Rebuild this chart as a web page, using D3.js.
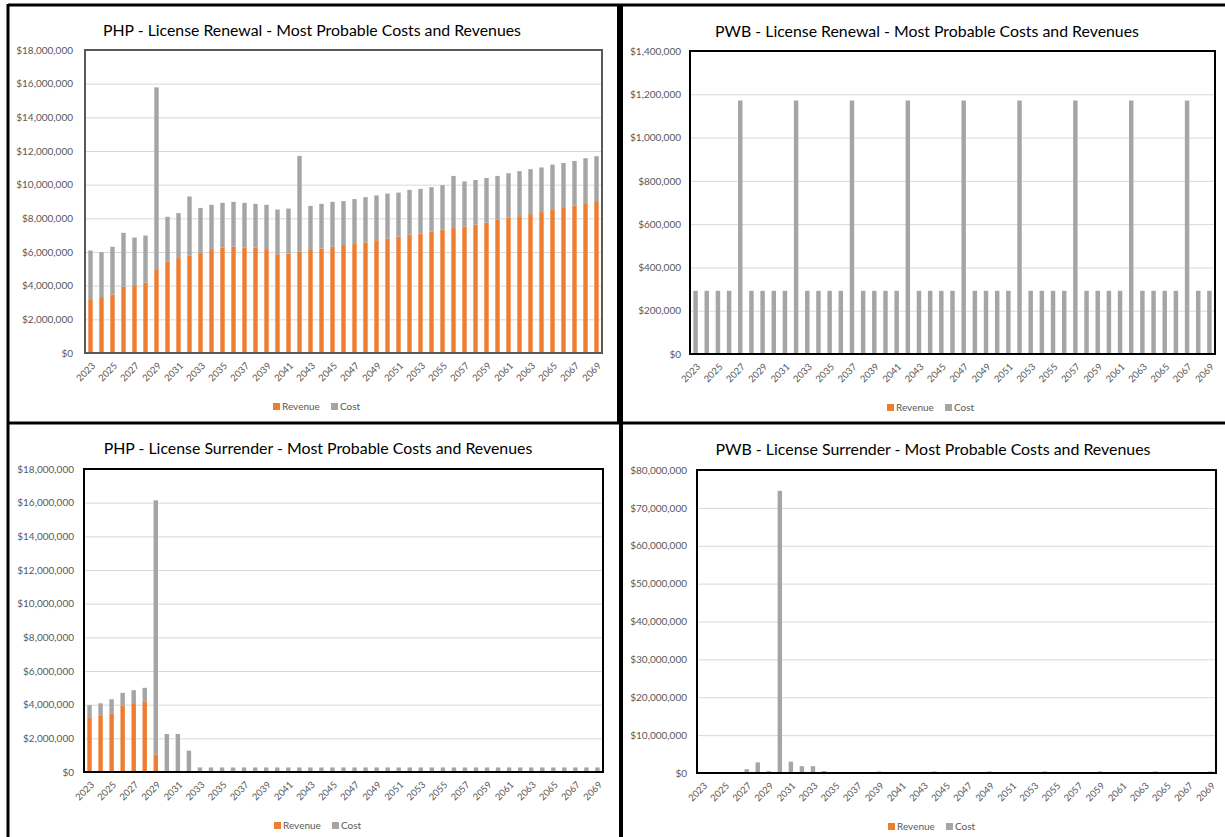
<!DOCTYPE html>
<html>
<head>
<meta charset="utf-8">
<script src="https://cdn.jsdelivr.net/npm/d3@7"></script>
<style>
  html, body { margin: 0; padding: 0; background: #fff; }
  svg { display: block; font-family: Lato, "Open Sans", sans-serif; }
</style>
</head>
<body>
<svg id="chart" width="1225" height="837"></svg>
<script>
// Years on the category axis
const years = d3.range(2023, 2070);
const tickYears = years.filter((y, i) => i % 2 === 0);
const seriesNames = ["Revenue", "Cost"];

// PHP - License Renewal (USD)
const phpRenewalRevenue = [
  3200000, 3320000, 3480000, 3940000, 4030000, 4190000, 4980000, 5440000, 5640000, 5800000,
  5970000, 6170000, 6270000, 6310000, 6270000, 6270000, 6170000, 5870000, 5910000, 6030000,
  6170000, 6210000, 6310000, 6410000, 6470000, 6570000, 6700000, 6800000, 6920000, 7040000,
  7100000, 7220000, 7320000, 7420000, 7520000, 7630000, 7750000, 7930000, 8030000, 8130000,
  8250000, 8370000, 8540000, 8660000, 8760000, 8900000, 9020000
];
const phpRenewalCost = [
  2890000, 2670000, 2830000, 3200000, 2830000, 2790000, 10800000, 2650000, 2670000, 3500000,
  2650000, 2630000, 2650000, 2670000, 2650000, 2590000, 2630000, 2650000, 2670000, 5680000,
  2570000, 2650000, 2670000, 2610000, 2670000, 2690000, 2660000, 2670000, 2610000, 2650000,
  2650000, 2630000, 2650000, 3100000, 2670000, 2650000, 2650000, 2590000, 2650000, 2670000,
  2670000, 2650000, 2650000, 2630000, 2650000, 2670000, 2670000
];

// PWB - License Renewal (USD)
const pwbRenewalRevenue = [
  0, 0, 0, 0, 0, 0, 0, 0, 0, 0, 0, 0, 0, 0, 0, 0, 0, 0, 0, 0, 0, 0, 0, 0,
  0, 0, 0, 0, 0, 0, 0, 0, 0, 0, 0, 0, 0, 0, 0, 0, 0, 0, 0, 0, 0, 0, 0
];
const pwbRenewalCost = [
  292000, 292000, 292000, 292000, 1171000, 292000, 292000, 292000, 292000, 1171000,
  292000, 292000, 292000, 292000, 1171000, 292000, 292000, 292000, 292000, 1171000,
  292000, 292000, 292000, 292000, 1171000, 292000, 292000, 292000, 292000, 1171000,
  292000, 292000, 292000, 292000, 1171000, 292000, 292000, 292000, 292000, 1171000,
  292000, 292000, 292000, 292000, 1171000, 292000, 292000
];

// PHP - License Surrender (USD)
const phpSurrenderRevenue = [
  3210000, 3330000, 3470000, 3930000, 4040000, 4200000, 1050000, 0, 0, 0,
  0, 0, 0, 0, 0, 0, 0, 0, 0, 0, 0, 0, 0, 0, 0, 0, 0, 0, 0, 0,
  0, 0, 0, 0, 0, 0, 0, 0, 0, 0, 0, 0, 0, 0, 0, 0, 0
];
const phpSurrenderCost = [
  760000, 750000, 850000, 770000, 820000, 800000, 15090000, 2260000, 2260000, 1270000,
  270000, 270000, 270000, 270000, 270000, 270000, 270000, 270000, 270000, 270000,
  270000, 270000, 270000, 270000, 270000, 270000, 270000, 270000, 270000, 270000,
  270000, 270000, 270000, 270000, 270000, 270000, 270000, 270000, 270000, 270000,
  270000, 270000, 270000, 270000, 270000, 270000, 270000
];

// PWB - License Surrender (USD)
const pwbSurrenderRevenue = [
  0, 0, 0, 0, 0, 0, 0, 0, 0, 0, 0, 0, 0, 0, 0, 0, 0, 0, 0, 0, 0, 0, 0, 0,
  0, 0, 0, 0, 0, 0, 0, 0, 0, 0, 0, 0, 0, 0, 0, 0, 0, 0, 0, 0, 0, 0, 0
];
const pwbSurrenderCost = [
  100000, 100000, 100000, 100000, 1000000, 2800000, 500000, 74500000, 3000000, 1800000,
  1800000, 500000, 150000, 150000, 150000, 150000, 400000, 150000, 150000, 150000,
  150000, 400000, 150000, 150000, 150000, 150000, 400000, 150000, 150000, 150000,
  150000, 400000, 150000, 150000, 150000, 150000, 400000, 150000, 150000, 150000,
  150000, 400000, 150000, 150000, 150000, 150000, 400000
];

const COLORS = { Revenue: "#ED7D31", Cost: "#A5A5A5" };
const svg = d3.select("#chart");
const fmt = d3.format("$,.0f");

// Frame lines separating the four charts
const frame = svg.append("g").attr("stroke", "#000").attr("fill", "none");
frame.append("line").attr("x1", 8).attr("x2", 1225).attr("y1", 5).attr("y2", 5).attr("stroke-width", 3);
frame.append("line").attr("x1", 8).attr("x2", 8).attr("y1", 4).attr("y2", 837).attr("stroke-width", 3);
frame.append("line").attr("x1", 618).attr("x2", 618).attr("y1", 4).attr("y2", 423).attr("stroke-width", 2);
frame.append("line").attr("x1", 621).attr("x2", 621).attr("y1", 4).attr("y2", 837).attr("stroke-width", 4);
frame.append("line").attr("x1", 8).attr("x2", 1225).attr("y1", 423).attr("y2", 423).attr("stroke-width", 3);

function fitText(sel, width) {
  const base = parseFloat(sel.attr("font-size"));
  const w = sel.node().getComputedTextLength();
  sel.attr("font-size", (base * width / w).toFixed(2));
}

function drawPanel(cfg) {
  const [x0, y0, x1, y1] = cfg.plot;
  const g = svg.append("g");

  const rows = years.map((yr, i) => ({ year: yr, Revenue: cfg.revenue[i], Cost: cfg.cost[i] }));
  const stack = d3.stack().keys(seriesNames)(rows);

  const x = d3.scaleBand().domain(years).range([x0, x1]).paddingInner(0.6).paddingOuter(0.3);
  const y = d3.scaleLinear().domain([0, cfg.yMax]).range([y1, y0]);
  const yTicks = d3.range(0, cfg.yMax + 1, cfg.yStep);

  // Title
  const title = g.append("text")
    .attr("x", cfg.titleX).attr("y", cfg.titleY)
    .attr("text-anchor", "middle")
    .attr("font-size", 16).attr("fill", "#000")
    .text(cfg.title);
  fitText(title, cfg.titleWidth);

  // Horizontal gridlines
  g.append("g")
    .attr("transform", `translate(${x0},0)`)
    .call(d3.axisLeft(y).tickValues(yTicks).tickSize(-(x1 - x0)).tickFormat(""))
    .call(s => s.select(".domain").remove())
    .call(s => s.selectAll("line").attr("stroke", "#d9d9d9").attr("stroke-width", 1));

  // Y tick labels
  g.append("g")
    .attr("transform", `translate(${cfg.labelRight},0)`)
    .call(d3.axisLeft(y).tickValues(yTicks).tickSize(0).tickPadding(0).tickFormat(fmt))
    .call(s => s.select(".domain").remove())
    .call(s => s.selectAll("text").attr("fill", "#595959").attr("font-size", 10)
      .attr("font-family", "Lato, sans-serif"));

  // Stacked bars
  g.append("g").selectAll("g")
    .data(stack).join("g")
    .attr("fill", d => COLORS[d.key])
    .selectAll("rect")
    .data(d => d).join("rect")
    .attr("x", d => x(d.data.year))
    .attr("width", x.bandwidth())
    .attr("y", d => y(d[1]))
    .attr("height", d => Math.max(0, y(d[0]) - y(d[1])));

  // Plot-area border
  g.append("rect")
    .attr("x", x0).attr("y", y0).attr("width", x1 - x0).attr("height", y1 - y0)
    .attr("fill", "none").attr("stroke", cfg.borderColor).attr("stroke-width", 2);

  // X tick labels, rotated
  g.append("g")
    .attr("transform", `translate(0,${y1})`)
    .call(d3.axisBottom(x).tickValues(tickYears).tickSize(0))
    .call(s => s.select(".domain").remove())
    .call(s => s.selectAll("text")
      .attr("fill", "#595959").attr("font-size", 9.5)
      .attr("font-family", "Lato, sans-serif")
      .attr("text-anchor", "end")
      .attr("x", 0).attr("y", 0).attr("dy", "0.35em")
      .attr("transform", "translate(3,11) rotate(-45)"));

  // Legend
  const lg = g.append("g").attr("transform", `translate(${cfg.legendX},${cfg.legendY})`);
  seriesNames.forEach((name, i) => {
    const item = lg.append("g").attr("transform", `translate(${i * 58},0)`);
    item.append("rect").attr("x", 0).attr("y", -6).attr("width", 7).attr("height", 7).attr("fill", COLORS[name]);
    item.append("text").attr("x", 9).attr("y", 0).attr("dy", "0.05em")
      .attr("font-size", 10).attr("fill", "#595959").text(name);
  });
}

drawPanel({
  title: "PHP - License Renewal - Most Probable Costs and Revenues",
  titleX: 312, titleY: 36, titleWidth: 418,
  plot: [85, 50, 602, 353], yMax: 18000000, yStep: 2000000, labelRight: 73,
  revenue: phpRenewalRevenue, cost: phpRenewalCost,
  legendX: 273, legendY: 409, borderColor: "#595959"
});

drawPanel({
  title: "PWB - License Renewal - Most Probable Costs and Revenues",
  titleX: 927, titleY: 37, titleWidth: 424,
  plot: [690, 51, 1215, 354], yMax: 1400000, yStep: 200000, labelRight: 681,
  revenue: pwbRenewalRevenue, cost: pwbRenewalCost,
  legendX: 887, legendY: 410, borderColor: "#000"
});

drawPanel({
  title: "PHP - License Surrender - Most Probable Costs and Revenues",
  titleX: 318, titleY: 454, titleWidth: 429,
  plot: [84, 469, 603, 772], yMax: 18000000, yStep: 2000000, labelRight: 74,
  revenue: phpSurrenderRevenue, cost: phpSurrenderCost,
  legendX: 274, legendY: 828, borderColor: "#000"
});

drawPanel({
  title: "PWB - License Surrender - Most Probable Costs and Revenues",
  titleX: 933, titleY: 455, titleWidth: 435,
  plot: [697, 470, 1216, 773], yMax: 80000000, yStep: 10000000, labelRight: 687,
  revenue: pwbSurrenderRevenue, cost: pwbSurrenderCost,
  legendX: 888, legendY: 829, borderColor: "#000"
});
</script>
</body>
</html>
